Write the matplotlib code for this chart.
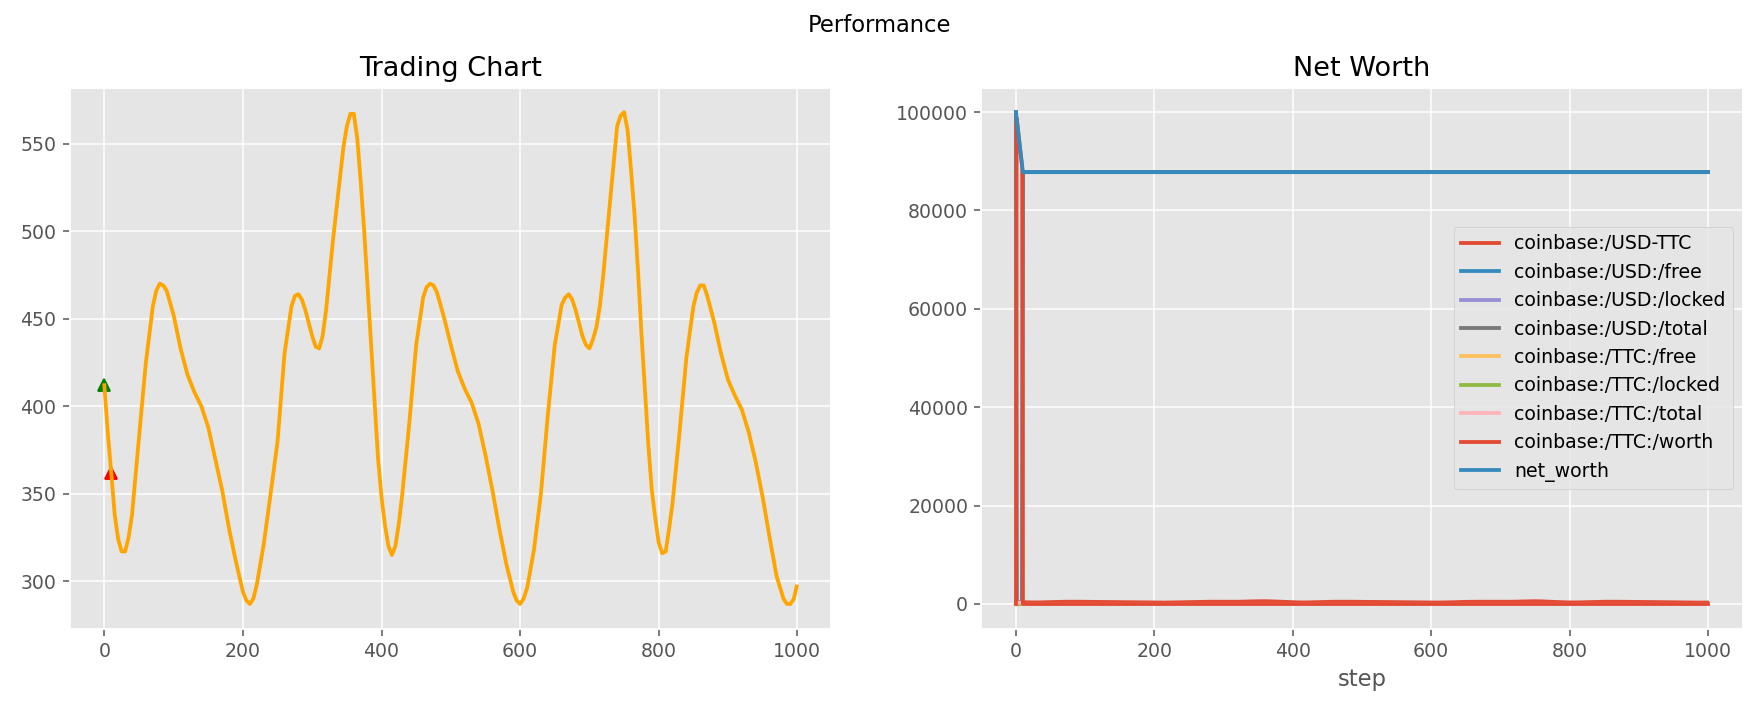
import matplotlib
matplotlib.use("Agg")
import matplotlib.pyplot as plt

plt.style.use('ggplot')
plt.rcParams['lines.linewidth'] = 2

# price (denser around the turning points)
steps = [0, 5, 10, 15, 20, 25, 30, 35, 40, 50, 60, 70, 75, 80, 85, 90,
         100, 110, 120, 130, 140, 150, 160, 170, 180, 190, 200, 205, 210, 215, 220,
         230, 240, 250, 260, 270, 275, 280, 285, 290, 300, 305, 310, 315, 320, 325, 330,
         340, 345, 350, 355, 360, 365, 370, 375, 380, 385, 390, 395, 400, 405, 410, 415, 420, 425, 430,
         440, 450, 460, 465, 470, 475, 480, 490,
         500, 510, 520, 530, 540, 550, 560, 570, 580, 590, 595, 600, 605, 610, 620,
         630, 640, 650, 660, 665, 670, 675, 680, 690, 695, 700, 705, 710, 715, 720,
         730, 740, 745, 750, 755, 760, 765, 770, 775, 780, 785, 790, 795, 800, 805, 810, 815, 820,
         830, 840, 850, 855, 860, 865, 870, 880, 890,
         900, 910, 920, 930, 940, 950, 960, 970, 980, 985, 990, 995, 999]
price = [412, 385, 362, 338, 324, 317, 317, 325, 338, 382, 425, 457, 466, 470, 469, 466,
         452, 433, 418, 408, 400, 388, 370, 352, 330, 311, 294, 289, 287, 290, 298,
         321, 350, 380, 430, 457, 463, 464, 461, 455, 440, 434, 433, 440, 455, 475, 495,
         530, 548, 560, 567, 567, 553, 528, 500, 467, 435, 403, 370, 348, 332, 320, 315, 320, 333, 350,
         390, 435, 462, 468, 470, 469, 465, 451,
         435, 420, 410, 402, 390, 372, 352, 330, 310, 294, 289, 287, 290, 296, 318,
         350, 395, 435, 458, 462, 464, 461, 455, 440, 435, 433, 438, 445, 457, 475,
         518, 560, 566, 568, 558, 535, 510, 478, 442, 410, 378, 352, 336, 322, 316, 317, 330, 345,
         385, 428, 457, 465, 469, 469, 463, 448, 430,
         415, 406, 398, 385, 368, 348, 325, 303, 290, 287, 287, 290, 297]

buy_steps, buy_prices = [0], [412]
sell_steps, sell_prices = [10], [362]

# portfolio values (only the first steps move, then flat to the end)
nw_steps = [0, 1, 2, 3, 4, 5, 6, 7, 8, 9, 10, 1000]
usd_free = [100000, 0, 0, 0, 0, 0, 0, 0, 0, 0, 87800, 87800]
usd_locked = [0] * 12
usd_total = [100000, 0, 0, 0, 0, 0, 0, 0, 0, 0, 87800, 87800]
ttc_free = [0, 243, 243, 243, 243, 243, 243, 243, 243, 243, 0, 0]
ttc_locked = [0] * 12
ttc_total = [0, 243, 243, 243, 243, 243, 243, 243, 243, 243, 0, 0]
ttc_worth = [0, 98700, 97500, 96300, 95000, 93800, 92500, 91300, 90100, 88900, 0, 0]
net_worth = [100000, 98700, 97500, 96300, 95000, 93800, 92500, 91300, 90100, 88900, 87800, 87800]

dpi = 136
fig = plt.figure(figsize=(1760 / dpi, 724 / dpi), dpi=dpi)
fig.suptitle('Performance')

ax1 = fig.add_axes([0.0396, 0.1318, 0.4327, 0.7473])
ax2 = fig.add_axes([0.5576, 0.1318, 0.4325, 0.7473])

ax1.plot(buy_steps, buy_prices, '^', color='green')
ax1.plot(sell_steps, sell_prices, '^', color='red')
ax1.plot(steps, price, color='orange')
ax1.set_title('Trading Chart')

ax2.plot(steps, price, label='coinbase:/USD-TTC')
ax2.plot(nw_steps, usd_free, label='coinbase:/USD:/free')
ax2.plot(nw_steps, usd_locked, label='coinbase:/USD:/locked')
ax2.plot(nw_steps, usd_total, label='coinbase:/USD:/total')
ax2.plot(nw_steps, ttc_free, label='coinbase:/TTC:/free')
ax2.plot(nw_steps, ttc_locked, label='coinbase:/TTC:/locked')
ax2.plot(nw_steps, ttc_total, label='coinbase:/TTC:/total')
ax2.plot(nw_steps, ttc_worth, label='coinbase:/TTC:/worth')
ax2.plot(nw_steps, net_worth, label='net_worth')
ax2.set_title('Net Worth')
ax2.set_xlabel('step')
ax2.legend(loc='center right')

fig.savefig('out.png', dpi=dpi)
